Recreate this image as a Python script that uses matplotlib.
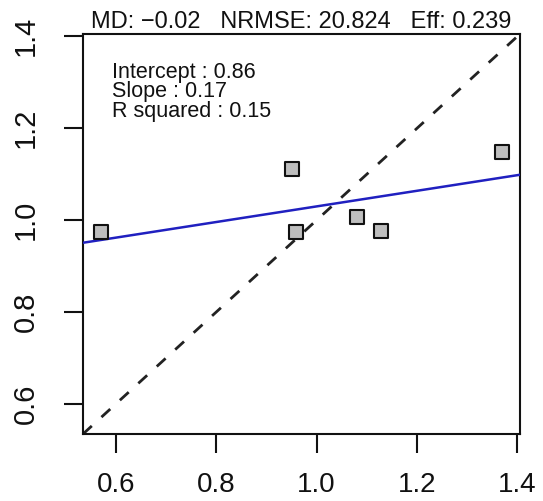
import matplotlib

matplotlib.use("Agg")

import matplotlib.pyplot as plt

# ----------------------------------------------------------
# Data
# ----------------------------------------------------------

observed = [0.570, 0.952, 0.960, 1.080, 1.129, 1.370]
predicted = [0.974, 1.111, 0.974, 1.007, 0.976, 1.148]

intercept = 0.86
slope = 0.17
r_squared = 0.15

md = -0.02
nrmse = 20.824
eff = 0.239

ticks = [0.6, 0.8, 1.0, 1.2, 1.4]
tick_labels = ["0.6", "0.8", "1.0", "1.2", "1.4"]

limits = (0.535, 1.405)

plt.rcParams["font.family"] = ["Liberation Sans", "DejaVu Sans"]

# ----------------------------------------------------------
# Figure
# ----------------------------------------------------------

fig = plt.figure(figsize=(5.43, 5.01), dpi=100)

ax = fig.add_axes([83 / 543, 1 - 434 / 501, 437 / 543, 400 / 501])

ax.set_xlim(limits)
ax.set_ylim(limits)

# 1:1 line
ax.plot(
    limits,
    limits,
    color="#222222",
    linewidth=2.0,
    dashes=(4.3, 4.7),
    zorder=2
)

# fitted line
x_fit = list(limits)
y_fit = [intercept + slope * v for v in x_fit]

ax.plot(
    x_fit,
    y_fit,
    color="#2020c0",
    linewidth=1.8,
    zorder=3
)

ax.scatter(
    observed,
    predicted,
    marker="s",
    s=9.4 ** 2,
    facecolor="#bebebe",
    edgecolor="#111111",
    linewidth=1.5,
    zorder=4
)

# ----------------------------------------------------------
# Text
# ----------------------------------------------------------

ax.text(
    0.5,
    1 + 6 / 400,
    "MD: \u22120.02   NRMSE: %.3f   Eff: %.3f" % (nrmse, eff),
    transform=ax.transAxes,
    ha="center",
    va="baseline",
    fontsize=17,
    color="#111111"
)

stats_lines = [
    "Intercept : %.2f" % intercept,
    "Slope : %.2f" % slope,
    "R squared : %.2f" % r_squared,
]

for i, line in enumerate(stats_lines):

    ax.text(
        0.066,
        0.89 - i * 0.0485,
        line,
        transform=ax.transAxes,
        ha="left",
        va="baseline",
        fontsize=15.5,
        color="#111111"
    )

# ----------------------------------------------------------
# Axes styling
# ----------------------------------------------------------

ax.set_xticks(ticks)
ax.set_xticklabels(tick_labels)
ax.set_yticks(ticks)
ax.set_yticklabels(tick_labels, rotation=90, va="center")

ax.tick_params(
    axis="x",
    length=14,
    width=1.5,
    pad=13,
    labelsize=20,
    colors="#111111"
)

ax.tick_params(
    axis="y",
    length=14,
    width=1.5,
    pad=17,
    labelsize=21,
    colors="#111111"
)

for spine in ax.spines.values():
    spine.set_linewidth(1.5)
    spine.set_color("#111111")

plt.savefig("out.png", dpi=100)

plt.close()
